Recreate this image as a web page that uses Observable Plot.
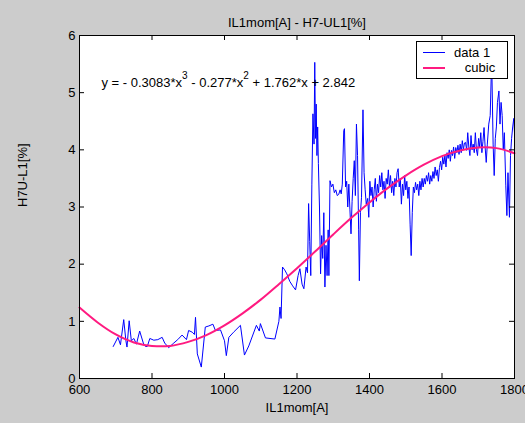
<!DOCTYPE html>
<html><head><meta charset="utf-8">
<script src="https://cdn.jsdelivr.net/npm/d3@7"></script>
<script src="https://cdn.jsdelivr.net/npm/@observablehq/plot@0.6"></script>
<style>
html,body{margin:0;padding:0;background:#cccccc;}
#chart{width:525px;height:423px;}
</style></head><body><div id="chart"></div>
<script>
const title = "IL1mom[A] - H7-UL1[%]";
const xLabel = "IL1mom[A]";
const yLabel = "H7U-L1[%]";
const xTicks = [600, 800, 1000, 1200, 1400, 1600, 1800];
const yTicks = [0, 1, 2, 3, 4, 5, 6];
const legendLabels = ["data 1", "   cubic"];
const eqParts = [["y = - 0.3083*x", false], ["3", true], [" - 0.277*x", false], ["2", true], [" + 1.762*x + 2.842", false]];

const dataX = [693,706,713,722,728,731,737,743,750,757,766,776,782,787,794,805,816,828,835,846,860,871,883,895,901,911,917,920,925,936,947,957,968,975,989,1000,1005,1012,1025,1044,1055,1067,1088,1096,1099,1113,1139,1150,1153,1156,1160,1166,1172,1180,1188,1196,1203,1208,1214,1219,1225,1229,1232,1235,1238,1241,1244,1247,1249,1251,1253,1255,1257,1259,1262,1265,1268,1271,1274,1277,1280,1283,1286,1288,1291,1295,1299,1303,1307,1311,1315,1319,1322,1325,1329,1331,1334,1337,1340,1343,1346,1349,1352,1355,1358,1361,1364,1367,1370,1372,1375,1378,1382,1385,1388,1391,1395,1398,1401,1404,1407,1410,1413,1416,1419,1422,1425,1428,1431,1434,1437,1440,1443,1446,1449,1452,1455,1458,1461,1464,1467,1470,1473,1476,1479,1482,1485,1488,1491,1494,1497,1500,1503,1506,1509,1512,1515,1518,1521,1524,1527,1530,1533,1536,1539,1542,1545,1548,1551,1554,1557,1560,1563,1566,1569,1572,1575,1578,1581,1584,1587,1590,1593,1596,1599,1602,1605,1608,1611,1614,1617,1620,1623,1626,1629,1632,1635,1638,1641,1644,1647,1650,1653,1656,1659,1662,1665,1668,1671,1674,1677,1680,1683,1686,1689,1692,1695,1698,1701,1704,1707,1710,1713,1716,1719,1722,1725,1729,1733,1737,1741,1744,1747,1750,1753,1757,1760,1763,1766,1769,1772,1776,1779,1782,1786,1789,1792,1795,1798,1800];
const dataY = [0.56,0.72,0.59,1.03,0.66,0.55,1.01,0.66,0.70,0.60,0.83,0.62,0.56,0.56,0.70,0.67,0.68,0.72,0.62,0.54,0.62,0.68,0.76,0.68,0.84,0.81,0.77,1.07,0.43,0.20,0.90,0.92,0.95,0.84,0.85,0.66,0.40,0.72,0.81,0.93,0.41,0.57,0.93,0.83,0.96,0.71,0.69,1.00,1.25,1.05,1.95,1.90,1.83,1.70,1.62,1.55,1.80,1.92,1.65,1.57,1.95,1.85,3.06,2.40,1.80,3.40,4.63,4.10,5.53,4.20,4.80,3.90,4.40,3.76,3.00,1.83,2.50,2.10,2.90,1.60,2.33,1.80,2.60,1.80,3.46,3.35,3.40,3.25,3.30,3.20,3.22,3.30,3.23,3.40,4.34,4.37,3.35,3.45,3.00,3.40,2.95,2.53,3.10,3.50,3.81,3.20,4.45,3.90,2.60,1.71,2.90,3.17,4.70,3.60,3.30,3.05,3.15,2.82,3.45,3.20,3.35,3.00,3.30,3.50,3.10,3.40,3.25,3.55,3.35,3.60,3.30,3.45,3.15,3.50,3.40,3.65,3.35,3.55,3.25,3.45,3.20,3.50,3.35,3.60,3.67,3.35,3.50,3.05,3.40,3.20,3.55,3.30,3.45,3.15,3.35,2.70,2.15,2.90,3.35,3.25,3.43,3.30,3.40,3.20,3.45,3.30,3.50,3.35,3.50,3.40,3.55,3.45,3.60,3.40,3.55,3.45,3.62,3.50,3.70,3.55,3.65,3.45,3.69,3.80,3.65,3.87,3.75,3.90,3.70,3.95,3.85,4.00,3.80,3.99,3.90,4.05,3.85,4.04,3.95,4.08,3.92,4.10,3.95,4.16,4.00,4.12,4.13,3.99,4.30,4.05,3.90,4.25,4.00,4.10,3.95,4.30,4.00,3.90,4.20,4.05,4.30,3.95,4.15,4.39,4.05,3.78,4.10,4.45,4.60,5.60,4.10,3.55,4.20,4.40,4.83,5.03,4.45,4.83,4.60,4.00,4.30,3.37,2.85,3.60,2.82,3.90,4.20,4.40,4.55,4.30];

const cubicX = [600,650,700,750,800,850,900,950,1000,1050,1100,1150,1200,1250,1300,1350,1400,1450,1500,1550,1600,1650,1700,1750,1800];
const cubicY = [1.24,0.98,0.77,0.63,0.57,0.57,0.64,0.76,0.93,1.14,1.38,1.65,1.93,2.22,2.52,2.81,3.08,3.33,3.55,3.74,3.89,3.99,4.04,4.03,3.94];

const data = dataX.map((x, i) => ({x, y: dataY[i]}));
const cubic = cubicX.map((x, i) => ({x, y: cubicY[i]}));

const W = 525, H = 423, mL = 79, mR = 11, mT = 35, mB = 45;
const fW = W - mL - mR, fH = H - mT - mB, tk = 5;
const blue = "#0000ff", pink = "#ff1a80";
const font = "'Liberation Sans', Arial, Helvetica, sans-serif";
const eqPlain = eqParts.map(d => d[0]).join("");

const svg = Plot.plot({
  width: W, height: H,
  marginLeft: mL, marginRight: mR, marginTop: mT, marginBottom: mB,
  style: {background: "#cccccc", fontFamily: font, fontSize: "13px", color: "black"},
  x: {domain: [600, 1800], label: null},
  y: {domain: [0, 6], label: null},
  marks: [
    Plot.frame({fill: "white", stroke: null}),
    Plot.line(data, {x: "x", y: "y", stroke: blue, strokeWidth: 1}),
    Plot.line(cubic, {x: "x", y: "y", stroke: pink, strokeWidth: 2, curve: "catmull-rom"}),
    Plot.tickX(xTicks, {x: d => d, insetTop: fH - tk, stroke: "black"}),
    Plot.tickX(xTicks, {x: d => d, insetBottom: fH - tk, stroke: "black"}),
    Plot.tickY(yTicks, {y: d => d, insetRight: fW - tk, stroke: "black"}),
    Plot.tickY(yTicks, {y: d => d, insetLeft: fW - tk, stroke: "black"}),
    Plot.frame({stroke: "black", fill: null}),
    Plot.axisX(xTicks, {tickSize: 0, tickPadding: 6, label: null, fontSize: 13, tickFormat: d => String(d)}),
    Plot.axisY(yTicks, {tickSize: 0, tickPadding: 4, label: null, fontSize: 13, tickFormat: d => String(d)}),
    Plot.text([title], {text: d => d, frameAnchor: "top", dy: -13, lineAnchor: "middle", fontSize: 13}),
    Plot.text([xLabel], {text: d => d, frameAnchor: "bottom", dy: 29, lineAnchor: "middle", fontSize: 13}),
    Plot.text([yLabel], {text: d => d, frameAnchor: "left", dx: -57, rotate: -90, lineAnchor: "middle", fontSize: 13}),
    Plot.text([eqPlain], {text: d => d, frameAnchor: "top-left", dx: 22, dy: 51.7, textAnchor: "start", lineAnchor: "bottom", fontSize: 13})
  ]
});

// superscripts in the equation
d3.select(svg).selectAll("text").filter(function() { return this.textContent === eqPlain; }).each(function() {
  const t = d3.select(this);
  t.text(null);
  let raised = false;
  eqParts.forEach(([s, sup]) => {
    const ts = t.append("tspan").text(s);
    if (sup) { ts.attr("dy", -8).attr("font-size", 10); raised = true; }
    else if (raised) { ts.attr("dy", 8); raised = false; }
  });
});

// legend box
const lg = d3.select(svg).append("g").attr("font-family", font).attr("font-size", 13).attr("text-anchor", "start");
lg.append("rect").attr("x", 416.5).attr("y", 41.5).attr("width", 91).attr("height", 37)
  .attr("fill", "white").style("fill", "white").attr("stroke", "black").attr("stroke-width", 1);
const legendColors = [blue, pink], legendWidths = [1, 2];
legendLabels.forEach((lab, i) => {
  const yy = 52.5 + i * 15.5;
  lg.append("line").attr("x1", 423).attr("x2", 445).attr("y1", yy).attr("y2", yy)
    .attr("stroke", legendColors[i]).attr("stroke-width", legendWidths[i]);
  lg.append("text").attr("x", 454).attr("y", yy + 4.3).attr("fill", "black").attr("text-anchor", "start")
    .style("white-space", "pre").text(lab);
});

document.getElementById("chart").appendChild(svg);
</script>
</body></html>
